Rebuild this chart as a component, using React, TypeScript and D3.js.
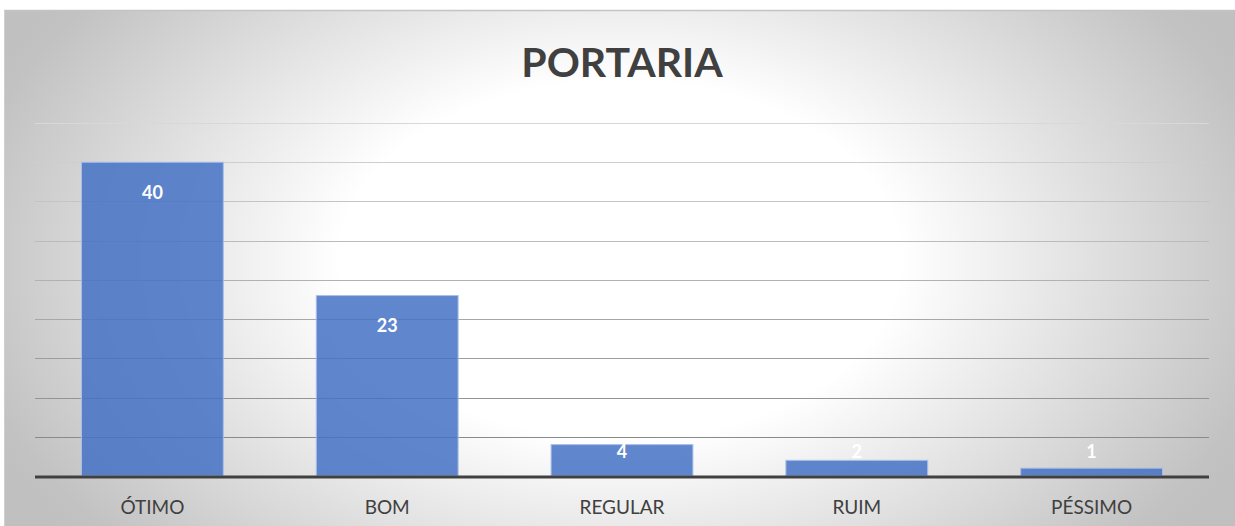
import { useEffect, useRef } from 'react'
import * as d3 from 'd3'

const categories = ['ÓTIMO', 'BOM', 'REGULAR', 'RUIM', 'PÉSSIMO']
const values = [40, 23, 4, 2, 1]
const gridTicks = [0, 5, 10, 15, 20, 25, 30, 35, 40, 45]
const chartTitle = 'PORTARIA'

const W = 1235
const H = 526

export default function App() {
  const svgRef = useRef<SVGSVGElement>(null)

  useEffect(() => {
    if (!svgRef.current) return
    const svg = d3.select(svgRef.current)
    svg.selectAll('*').remove()

    const margin = { top: 123, right: 26, bottom: 50, left: 35 }
    const plotW = W - margin.left - margin.right
    const plotH = H - margin.top - margin.bottom

    // background gradient, white in the middle, grey at the edges (elliptical)
    const defs = svg.append('defs')
    const grad = defs.append('radialGradient')
      .attr('id', 'bg')
      .attr('gradientUnits', 'userSpaceOnUse')
      .attr('cx', 620).attr('cy', 260).attr('r', 700)
      .attr('gradientTransform', 'translate(620,260) scale(1,0.64) translate(-620,-260)')
    grad.append('stop').attr('offset', '0').attr('stop-color', '#ffffff')
    grad.append('stop').attr('offset', '0.4').attr('stop-color', '#ffffff')
    grad.append('stop').attr('offset', '0.95').attr('stop-color', '#c2c2c2')
    grad.append('stop').attr('offset', '1').attr('stop-color', '#c0c0c0')

    svg.append('rect')
      .attr('x', 4).attr('y', 10)
      .attr('width', W - 4).attr('height', H - 10)
      .attr('fill', 'url(#bg)')
    svg.append('line')
      .attr('x1', 4).attr('x2', W).attr('y1', 10.5).attr('y2', 10.5)
      .attr('stroke', '#c4c4c4').attr('stroke-width', 1.5)
    svg.append('line')
      .attr('x1', 4.5).attr('x2', 4.5).attr('y1', 10).attr('y2', H)
      .attr('stroke', '#cfcfcf').attr('stroke-width', 1)

    const x = d3.scaleBand<string>()
      .domain(categories)
      .range([0, plotW])
      .paddingInner(0.396)
      .paddingOuter(0.198)

    const y = d3.scaleLinear()
      .domain([0, 45])
      .range([plotH, 0])

    const g = svg.append('g').attr('transform', `translate(${margin.left},${margin.top})`)

    // title
    svg.append('text')
      .attr('x', 622)
      .attr('y', 77)
      .attr('text-anchor', 'middle')
      .attr('font-family', 'Lato, "Open Sans", sans-serif')
      .attr('font-weight', 700)
      .attr('font-size', 41)
      .attr('fill', '#404040')
      .text(chartTitle)

    // gridlines, getting darker toward the bottom
    const gridColor = d3.scaleLinear<string>()
      .domain([45, 0])
      .range(['#d8d8d8', '#808080'])
    g.selectAll('.grid')
      .data(gridTicks.filter(t => t > 0))
      .join('line')
      .attr('class', 'grid')
      .attr('x1', 0).attr('x2', plotW)
      .attr('y1', d => Math.round(y(d)) + 0.5)
      .attr('y2', d => Math.round(y(d)) + 0.5)
      .attr('stroke', d => gridColor(d))
      .attr('stroke-width', 1.2)

    // bars
    g.selectAll('.bar')
      .data(values)
      .join('rect')
      .attr('class', 'bar')
      .attr('x', (d, i) => x(categories[i])!)
      .attr('y', d => y(d))
      .attr('width', x.bandwidth())
      .attr('height', d => plotH - y(d))
      .attr('fill', '#4472c4')
      .attr('fill-opacity', 0.85)
      .attr('stroke', '#a9bfe6')
      .attr('stroke-width', 1)

    // baseline
    g.append('line')
      .attr('x1', 0).attr('x2', plotW)
      .attr('y1', plotH + 1).attr('y2', plotH + 1)
      .attr('stroke', '#404040')
      .attr('stroke-width', 3)

    // data labels, inside end
    g.selectAll('.val')
      .data(values)
      .join('text')
      .attr('class', 'val')
      .attr('x', (d, i) => x(categories[i])! + x.bandwidth() / 2)
      .attr('y', d => Math.min(y(d) + 30, plotH - 24))
      .attr('dy', '0.35em')
      .attr('text-anchor', 'middle')
      .attr('font-family', 'Lato, "Open Sans", sans-serif')
      .attr('font-weight', 700)
      .attr('font-size', 18)
      .attr('fill', '#ffffff')
      .text(d => d)

    // category labels
    g.selectAll('.cat')
      .data(categories)
      .join('text')
      .attr('class', 'cat')
      .attr('x', d => x(d)! + x.bandwidth() / 2)
      .attr('y', plotH + 31)
      .attr('dy', '0.35em')
      .attr('text-anchor', 'middle')
      .attr('font-family', 'Lato, "Open Sans", sans-serif')
      .attr('font-size', 19)
      .attr('fill', '#404040')
      .text(d => d)
  }, [])

  return (
    <svg
      ref={svgRef}
      width={W}
      height={H}
      style={{ position: 'absolute', left: 0, top: 0, background: '#ffffff' }}
    />
  )
}
